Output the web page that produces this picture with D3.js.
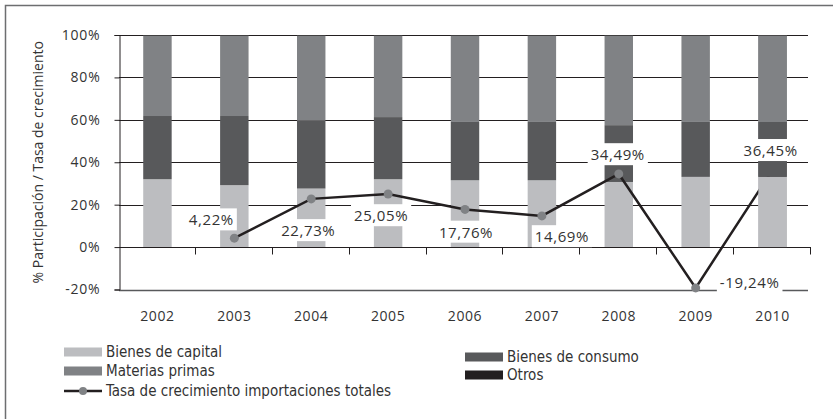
<!DOCTYPE html>
<html>
<head>
<meta charset="utf-8">
<script src="https://cdn.jsdelivr.net/npm/d3@7"></script>
<style>
  body { margin: 0; background: #fff; }
  svg { display: block; }
  text { font-family: 'Open Sans', sans-serif; fill: #333; }
  .legend text { font-family: 'Liberation Sans Narrow', 'DejaVu Sans Condensed', sans-serif; font-size: 15px; }
</style>
</head>
<body>
<div id="chart"></div>
<script>
let years = ['2002', '2003', '2004', '2005', '2006', '2007', '2008', '2009', '2010']
let bienesCapital  = [32.0, 29.2, 27.6, 32.0, 31.5, 31.5, 30.7, 33.1, 33.1]
let bienesConsumo  = [29.8, 32.6, 32.0, 29.3, 27.5, 27.5, 26.8, 25.9, 25.9]
let materiasPrimas = [38.0, 38.0, 40.2, 38.5, 40.8, 40.8, 42.3, 40.8, 40.8]
let otros          = [0.2, 0.2, 0.2, 0.2, 0.2, 0.2, 0.2, 0.2, 0.2]
let tasaCrecimiento = [null, 4.22, 22.73, 25.05, 17.76, 14.69, 34.49, -19.24, 36.45]
let yTicks = [-20, 0, 20, 40, 60, 80, 100]

// where each value label sits relative to its point (px)
let labelOffsets = {
  '2003': [-23, -18], '2004': [-3, 32], '2005': [-7, 22], '2006': [1, 23],
  '2007': [20, 21], '2008': [-1, -19], '2009': [54, -5], '2010': [-2, -19]
}
// bars that were drawn on top of the line in the original
let barsOverLine = ['2010']

let width = 833
let height = 419
let plot = { left: 119, right: 811, top: 35, bottom: 289.5 }

let series = [
  { key: 'capital', name: 'Bienes de capital', values: bienesCapital, color: '#bcbdc0' },
  { key: 'consumo', name: 'Bienes de consumo', values: bienesConsumo, color: '#58595b' },
  { key: 'materias', name: 'Materias primas', values: materiasPrimas, color: '#808285' },
  { key: 'otros', name: 'Otros', values: otros, color: '#231f20' }
]

let table = years.map((y, i) => {
  let row = { year: y }
  for (let s of series) row[s.key] = s.values[i]
  return row
})
let stacked = d3.stack().keys(series.map(s => s.key))(table)

let svg = d3.select('#chart').append('svg')
  .attr('width', width)
  .attr('height', height)

let x = d3.scaleBand().domain(years).range([plot.left, plot.right]).paddingInner(0.63).paddingOuter(0.315)
let y = d3.scaleLinear().domain([-20, 100]).range([plot.bottom, plot.top])

// outer frame
svg.append('rect')
  .attr('x', 5.5).attr('y', 5.5)
  .attr('width', width + 20).attr('height', height + 20)
  .attr('fill', 'none').attr('stroke', '#6d6e70').attr('stroke-width', 1.5)

// gridlines
svg.append('g')
  .selectAll('line')
  .data(yTicks.filter(d => d !== 0))
  .enter().append('line')
    .attr('x1', plot.left).attr('x2', plot.right - 3)
    .attr('y1', d => Math.round(y(d)) + 0.5).attr('y2', d => Math.round(y(d)) + 0.5)
    .attr('stroke', d => d === -20 ? '#58595b' : '#231f20')
    .attr('stroke-width', d => d === -20 ? 1.5 : 1)

function drawBars(g, filter) {
  g.selectAll('g')
    .data(stacked)
    .enter().append('g')
      .attr('fill', (d, i) => series[i].color)
    .selectAll('rect')
    .data(d => d.filter(p => filter(p.data.year)))
    .enter().append('rect')
      .attr('x', d => x(d.data.year))
      .attr('width', x.bandwidth())
      .attr('y', d => y(d[1]))
      .attr('height', d => y(d[0]) - y(d[1]))
}

drawBars(svg.append('g'), () => true)

// zero line with ticks between categories
let zeroY = Math.round(y(0)) + 0.5
svg.append('line')
  .attr('x1', plot.left).attr('x2', plot.right)
  .attr('y1', zeroY).attr('y2', zeroY)
  .attr('stroke', '#231f20')
svg.append('g')
  .selectAll('line')
  .data(d3.range(1, years.length + 1))
  .enter().append('line')
    .attr('x1', i => Math.round(plot.left + i * x.step()) - 0.5)
    .attr('x2', i => Math.round(plot.left + i * x.step()) - 0.5)
    .attr('y1', zeroY).attr('y2', zeroY + 7)
    .attr('stroke', '#231f20')

// Y axis
svg.append('g')
  .attr('transform', `translate(${plot.left + 0.5}, 0)`)
  .call(d3.axisLeft(y).tickValues(yTicks).tickSize(5).tickPadding(14).tickFormat(d => d + '%'))
  .call(g => g.select('.domain').attr('stroke', '#231f20'))
  .call(g => g.selectAll('.tick line').attr('stroke', '#231f20'))
  .call(g => g.selectAll('.tick text')
    .attr('font-family', "'Open Sans', sans-serif")
    .attr('font-size', 14)
    .attr('letter-spacing', 0.8)
    .attr('fill', '#333'))

// growth line
let pts = years.map((yr, i) => ({ year: yr, value: tasaCrecimiento[i] })).filter(d => d.value !== null)
let cx = d => x(d.year) + x.bandwidth() / 2

svg.append('path')
  .datum(pts)
  .attr('d', d3.line().x(cx).y(d => y(d.value)))
  .attr('fill', 'none')
  .attr('stroke', '#231f20')
  .attr('stroke-width', 2.5)

svg.append('g')
  .selectAll('circle')
  .data(pts)
  .enter().append('circle')
    .attr('cx', cx)
    .attr('cy', d => y(d.value))
    .attr('r', 4.5)
    .attr('fill', '#808285')

drawBars(svg.append('g'), yr => barsOverLine.indexOf(yr) !== -1)

// value labels with white boxes
let esFormat = d3.formatLocale({ decimal: ',', thousands: '.', grouping: [3], currency: ['', ''], minus: '-' }).format('.2f')
let labels = svg.append('g')
  .selectAll('g')
  .data(pts)
  .enter().append('g')
    .attr('transform', d => {
      let off = labelOffsets[d.year]
      return `translate(${cx(d) + off[0]}, ${y(d.value) + off[1]})`
    })
labels.append('rect').attr('fill', '#fff')
labels.append('text')
  .attr('text-anchor', 'middle')
  .attr('dy', '0.35em')
  .attr('font-size', 15)
  .attr('letter-spacing', 0.6)
  .text(d => esFormat(d.value) + '%')
labels.each(function() {
  let g = d3.select(this)
  let b = g.select('text').node().getBBox()
  g.select('rect')
    .attr('x', b.x - 3).attr('y', b.y - 1)
    .attr('width', b.width + 6).attr('height', b.height + 2)
})

// year labels
svg.append('g')
  .attr('transform', `translate(0, ${plot.bottom})`)
  .call(d3.axisBottom(x).tickSize(0).tickPadding(22))
  .call(g => g.select('.domain').remove())
  .call(g => g.selectAll('text')
    .attr('font-family', "'Open Sans', sans-serif")
    .attr('font-size', 14)
    .attr('letter-spacing', 0.6)
    .attr('fill', '#333'))

// Y title
svg.append('text')
  .attr('transform', `translate(43, ${(plot.top + plot.bottom) / 2}) rotate(-90)`)
  .attr('text-anchor', 'middle')
  .attr('font-size', 14)
  .text('% Participación / Tasa de crecimiento')

// legend
let legendItems = [
  { name: series[0].name, color: series[0].color, x: 64, y: 352 },
  { name: series[1].name, color: series[1].color, x: 465, y: 357 },
  { name: series[2].name, color: series[2].color, x: 64, y: 371 },
  { name: series[3].name, color: series[3].color, x: 465, y: 375 },
  { name: 'Tasa de crecimiento importaciones totales', line: true, x: 64, y: 391 }
]
let legend = svg.append('g').attr('class', 'legend')
  .selectAll('g')
  .data(legendItems)
  .enter().append('g')
    .attr('transform', d => `translate(${d.x}, ${d.y})`)
legend.filter(d => !d.line).append('rect')
  .attr('x', 0).attr('y', -4.5)
  .attr('width', 38).attr('height', 9)
  .attr('fill', d => d.color)
let lineItem = legend.filter(d => d.line)
lineItem.append('line')
  .attr('x1', 0).attr('x2', 38)
  .attr('stroke', '#231f20').attr('stroke-width', 2.5)
lineItem.append('circle')
  .attr('cx', 19).attr('r', 4)
  .attr('fill', '#808285')
legend.append('text')
  .attr('x', 42)
  .attr('dy', '0.35em')
  .text(d => d.name)
</script>
</body>
</html>
